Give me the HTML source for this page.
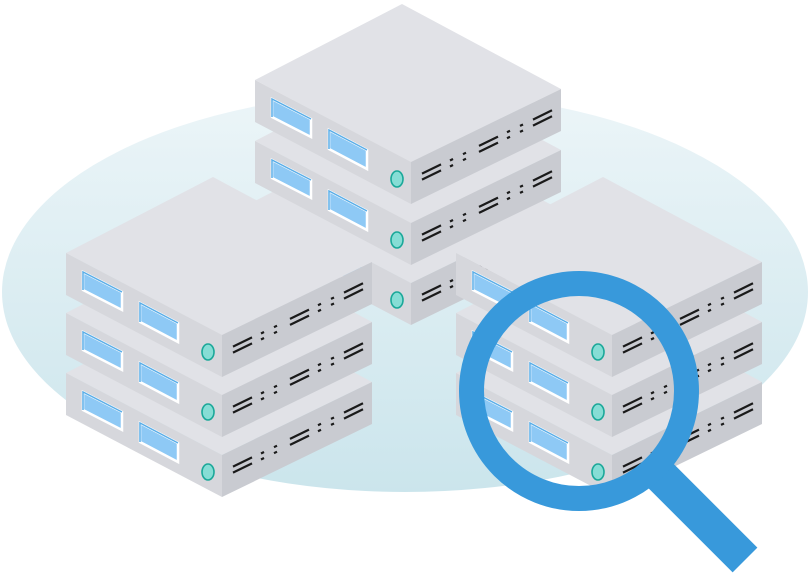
<!DOCTYPE html>
<html><head><meta charset="utf-8"><style>html,body{margin:0;padding:0;background:#fff}svg{display:block}</style></head>
<body>
<svg width="810" height="576" viewBox="0 0 810 576" xmlns="http://www.w3.org/2000/svg">
<defs>
<linearGradient id="bg" x1="0" y1="0" x2="0" y2="1">
<stop offset="0" stop-color="#ecf5f8"/><stop offset="1" stop-color="#cbe5ec"/>
</linearGradient>
<g id="u">
<polygon points="0,0 -156,-82 -9,-158 150,-73" fill="#e1e2e7"/>
<polygon points="-156,-82 0,0 0,42 -156,-40" fill="#d6d7dc"/>
<polygon points="0,0 150,-73 150,-31 0,42" fill="#c9cbd1"/>
<polygon points="-139,-63 -100,-43 -100,-25 -139,-45" fill="#8ec9f5" stroke="#fff" stroke-width="2.5"/>
<polygon points="-82,-32 -44,-12 -44,7 -82,-13" fill="#8ec9f5" stroke="#fff" stroke-width="2.5"/>
<polyline points="-139,-45 -139,-63 -100,-43" fill="none" stroke="#5aaee8" stroke-width="1.5"/>
<polyline points="-82,-13 -82,-32 -44,-12" fill="none" stroke="#5aaee8" stroke-width="1.5"/>
<ellipse cx="-14" cy="17" rx="6" ry="8" fill="#86ddd5" stroke="#1aa899" stroke-width="1.6"/>
<g stroke="#1a1a1a" stroke-width="2.2">
<line x1="11" y1="11.6" x2="30" y2="2.4"/><line x1="11" y1="17.6" x2="30" y2="8.4"/>
<line x1="39" y1="-1.5" x2="42" y2="-3"/><line x1="39" y1="4.5" x2="42" y2="3"/>
<line x1="52" y1="-7.8" x2="55" y2="-9.3"/><line x1="52" y1="-1.8" x2="55" y2="-3.3"/>
<line x1="68" y1="-16.1" x2="87" y2="-25.4"/><line x1="68" y1="-10.1" x2="87" y2="-19.4"/>
<line x1="96" y1="-29.8" x2="99" y2="-31.2"/><line x1="96" y1="-23.8" x2="99" y2="-25.2"/>
<line x1="109" y1="-36.1" x2="112" y2="-37.5"/><line x1="109" y1="-30.1" x2="112" y2="-31.5"/>
<line x1="122" y1="-42.4" x2="141" y2="-51.7"/><line x1="122" y1="-36.4" x2="141" y2="-45.7"/>
</g>
</g>
</defs>
<ellipse cx="405" cy="292" rx="403" ry="200" fill="url(#bg)"/>
<!-- top stack -->
<use href="#u" x="411" y="283"/>
<use href="#u" x="411" y="223"/>
<use href="#u" x="411" y="162"/>
<!-- left stack -->
<use href="#u" x="222" y="455"/>
<use href="#u" x="222" y="395"/>
<use href="#u" x="222" y="335"/>
<!-- right stack -->
<use href="#u" x="612" y="455"/>
<use href="#u" x="612" y="395"/>
<use href="#u" x="612" y="335"/>
<!-- magnifier -->
<line x1="658" y1="473" x2="745" y2="560" stroke="#3899db" stroke-width="35"/>
<circle cx="579" cy="391" r="107.5" fill="none" stroke="#3899db" stroke-width="25"/>
</svg>
</body></html>
